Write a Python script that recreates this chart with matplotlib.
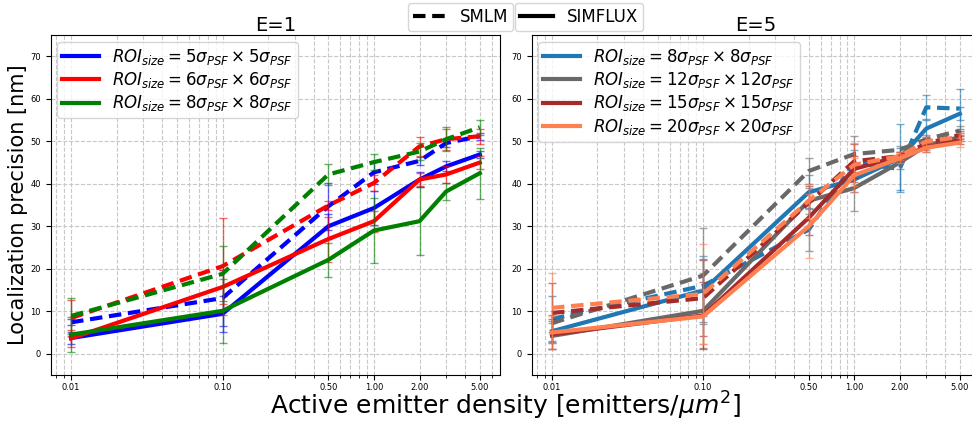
import matplotlib

matplotlib.use("Agg")
import matplotlib.pyplot as plt  # noqa: E402
from matplotlib.lines import Line2D  # noqa: E402
from matplotlib.ticker import FixedLocator, FixedFormatter, NullFormatter  # noqa: E402

density = [0.01, 0.1, 0.5, 1, 2, 3, 5]
xtick_vals = [0.01, 0.1, 0.5, 1, 2, 5]
xtick_labels = ["0.01", "0.10", "0.50", "1.00", "2.00", "5.00"]

# E=1 panel
e1_rois = [5, 6, 8]
e1_colors = ["blue", "red", "green"]
e1_simflux = [
    [3.7, 9.4, 30.0, 34.3, 41.0, 44.1, 46.9],
    [3.6, 15.7, 27.0, 31.2, 41.0, 42.2, 45.0],
    [4.5, 10.1, 22.1, 29.0, 31.2, 38.2, 42.5],
]
e1_simflux_err = [
    [1.5, 4.3, 3.0, 4.0, 1.7, 1.2, 0.8],
    [2.0, 4.0, 5.3, 2.5, 1.5, 2.0, 1.5],
    [4.2, 7.6, 4.0, 7.6, 8.0, 2.0, 6.0],
]
e1_smlm = [
    [7.4, 13.1, 34.7, 42.7, 45.4, 49.6, 51.2],
    [8.4, 20.6, 34.9, 40.2, 48.8, 50.5, 51.2],
    [8.9, 18.8, 42.2, 45.1, 47.6, 50.5, 53.3],
]
e1_smlm_err = [
    [0.7, 6.5, 5.6, 2.7, 1.0, 1.0, 0.8],
    [4.3, 11.4, 1.0, 1.8, 2.2, 2.5, 1.8],
    [4.2, 6.5, 2.5, 1.8, 2.0, 2.8, 1.8],
]

# E=5 panel
e5_rois = [8, 12, 15, 20]
e5_colors = ["#1f77b4", "#696969", "#a52a2a", "#ff7f50"]
e5_simflux = [
    [5.3, 14.9, 38.0, 41.0, 46.0, 53.0, 56.5],
    [4.2, 10.1, 36.0, 39.0, 45.0, 49.0, 51.0],
    [4.6, 9.0, 32.0, 43.5, 46.5, 48.5, 50.3],
    [5.0, 8.8, 30.0, 42.0, 46.0, 48.5, 49.7],
]
e5_simflux_err = [
    [2.5, 7.5, 4.0, 3.0, 8.0, 2.0, 1.5],
    [3.0, 8.8, 3.0, 5.5, 1.5, 1.0, 1.0],
    [3.5, 7.8, 4.0, 3.0, 1.0, 1.0, 1.0],
    [4.0, 6.5, 7.5, 4.0, 1.0, 1.0, 1.0],
]
e5_smlm = [
    [8.2, 16.0, 29.2, 45.0, 43.5, 58.0, 57.7],
    [7.2, 18.4, 43.0, 47.0, 48.0, 50.5, 52.5],
    [9.6, 13.1, 35.5, 45.3, 46.5, 49.5, 51.5],
    [10.8, 14.1, 36.0, 44.5, 46.5, 50.0, 51.0],
]
e5_smlm_err = [
    [5.3, 7.0, 5.0, 3.0, 5.0, 2.8, 4.7],
    [2.0, 11.3, 3.0, 4.3, 1.0, 1.0, 1.0],
    [7.0, 9.0, 4.0, 4.0, 1.0, 1.0, 1.0],
    [8.2, 11.7, 4.0, 5.0, 1.0, 1.0, 1.0],
]

DASH = (0, (3, 1.6))


def roi_label(n):
    return rf"$ROI_{{size}} = {n}\sigma_{{PSF}} \times {n}\sigma_{{PSF}}$"


def draw_panel(ax, title, rois, colors, smlm, smlm_err, simflux, simflux_err):
    for i, c in enumerate(colors):
        ax.errorbar(density, smlm[i], yerr=smlm_err[i], fmt="none", ecolor=c,
                    alpha=0.6, capsize=3, elinewidth=1)
        ax.errorbar(density, simflux[i], yerr=simflux_err[i], fmt="none", ecolor=c,
                    alpha=0.6, capsize=3, elinewidth=1)
        ax.plot(density, smlm[i], color=c, lw=3, linestyle=DASH)
        ax.plot(density, simflux[i], color=c, lw=3, label=roi_label(rois[i]))
    ax.set_xscale("log")
    ax.set_xlim(0.00734, 6.78)
    ax.set_ylim(-5, 75)
    ax.set_yticks(range(0, 71, 10))
    ax.xaxis.set_major_locator(FixedLocator(xtick_vals))
    ax.xaxis.set_major_formatter(FixedFormatter(xtick_labels))
    ax.xaxis.set_minor_formatter(NullFormatter())
    ax.tick_params(labelsize=6)
    ax.tick_params(axis="x", pad=2.5)
    ax.grid(True, which="both", linestyle="--", color="#c8c8c8", lw=0.8)
    ax.set_title(title, fontsize=14, pad=3)
    ax.legend(loc="upper left", fontsize=12, handlelength=2.2, labelspacing=0.2,
              borderaxespad=0.4, borderpad=0.3)


fig = plt.figure(figsize=(9.72, 4.23), dpi=100)
ax1 = fig.add_axes([0.0522, 0.1135, 0.462, 0.8035])
ax2 = fig.add_axes([0.547, 0.1135, 0.461, 0.8035])

draw_panel(ax1, "E=1", e1_rois, e1_colors, e1_smlm, e1_smlm_err, e1_simflux, e1_simflux_err)
draw_panel(ax2, "E=5", e5_rois, e5_colors, e5_smlm, e5_smlm_err, e5_simflux, e5_simflux_err)

ax1.set_ylabel("Localization precision [nm]", fontsize=15, labelpad=2)
fig.text(0.52, 0.019, r"Active emitter density [emitters/$\mu m^2$]",
         ha="center", va="baseline", fontsize=18)

smlm_handle = Line2D([], [], color="black", lw=3, linestyle=DASH)
simflux_handle = Line2D([], [], color="black", lw=3)
fig.legend([smlm_handle], ["SMLM"], loc="upper right", bbox_to_anchor=(0.528, 0.993),
           fontsize=12, borderaxespad=0, borderpad=0.3)
fig.legend([simflux_handle], ["SIMFLUX"], loc="upper left", bbox_to_anchor=(0.530, 0.993),
           fontsize=12, borderaxespad=0, borderpad=0.3)

fig.savefig("out.png", dpi=100)
